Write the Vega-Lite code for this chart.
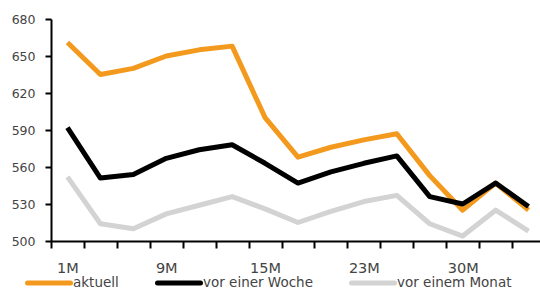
{
  "$schema": "https://vega.github.io/schema/vega-lite/v6.json",
  "width": 489,
  "height": 222,
  "autosize": {"type": "none"},
  "padding": {"left": 51, "top": 19, "right": 0, "bottom": 56},
  "background": "white",
  "config": {"view": {"stroke": null}, "font": "DejaVu Sans"},
  "data": {
    "values": [
      {"d": "1M", "s": "aktuell", "v": 661}, {"d": "4M", "s": "aktuell", "v": 635}, {"d": "6M", "s": "aktuell", "v": 640},
      {"d": "9M", "s": "aktuell", "v": 650}, {"d": "11M", "s": "aktuell", "v": 655}, {"d": "13M", "s": "aktuell", "v": 658},
      {"d": "15M", "s": "aktuell", "v": 600}, {"d": "18M", "s": "aktuell", "v": 568}, {"d": "20M", "s": "aktuell", "v": 576},
      {"d": "23M", "s": "aktuell", "v": 582}, {"d": "25M", "s": "aktuell", "v": 587}, {"d": "27M", "s": "aktuell", "v": 553},
      {"d": "30M", "s": "aktuell", "v": 525}, {"d": "1A", "s": "aktuell", "v": 547}, {"d": "3A", "s": "aktuell", "v": 525},
      {"d": "1M", "s": "vor einer Woche", "v": 592}, {"d": "4M", "s": "vor einer Woche", "v": 551}, {"d": "6M", "s": "vor einer Woche", "v": 554},
      {"d": "9M", "s": "vor einer Woche", "v": 567}, {"d": "11M", "s": "vor einer Woche", "v": 574}, {"d": "13M", "s": "vor einer Woche", "v": 578},
      {"d": "15M", "s": "vor einer Woche", "v": 563}, {"d": "18M", "s": "vor einer Woche", "v": 547}, {"d": "20M", "s": "vor einer Woche", "v": 556},
      {"d": "23M", "s": "vor einer Woche", "v": 563}, {"d": "25M", "s": "vor einer Woche", "v": 569}, {"d": "27M", "s": "vor einer Woche", "v": 536},
      {"d": "30M", "s": "vor einer Woche", "v": 530}, {"d": "1A", "s": "vor einer Woche", "v": 547}, {"d": "3A", "s": "vor einer Woche", "v": 528},
      {"d": "1M", "s": "vor einem Monat", "v": 552}, {"d": "4M", "s": "vor einem Monat", "v": 514}, {"d": "6M", "s": "vor einem Monat", "v": 510},
      {"d": "9M", "s": "vor einem Monat", "v": 522}, {"d": "11M", "s": "vor einem Monat", "v": 529}, {"d": "13M", "s": "vor einem Monat", "v": 536},
      {"d": "15M", "s": "vor einem Monat", "v": 526}, {"d": "18M", "s": "vor einem Monat", "v": 515}, {"d": "20M", "s": "vor einem Monat", "v": 524},
      {"d": "23M", "s": "vor einem Monat", "v": 532}, {"d": "25M", "s": "vor einem Monat", "v": 537}, {"d": "27M", "s": "vor einem Monat", "v": 514},
      {"d": "30M", "s": "vor einem Monat", "v": 504}, {"d": "1A", "s": "vor einem Monat", "v": 525}, {"d": "3A", "s": "vor einem Monat", "v": 508}
    ]
  },
  "encoding": {
    "x": {
      "field": "d",
      "type": "ordinal",
      "scale": {
        "type": "band",
        "paddingInner": 0,
        "paddingOuter": 0,
        "range": [0, 494],
        "domain": ["1M", "4M", "6M", "9M", "11M", "13M", "15M", "18M", "20M", "23M", "25M", "27M", "30M", "1A", "3A"]
      },
      "axis": {
        "title": null,
        "grid": false,
        "tickBand": "extent",
        "labelExpr": "indexof(['1M','9M','15M','23M','30M'], datum.value) >= 0 ? datum.value : ''",
        "labelOverlap": false,
        "labelAngle": 0,
        "domainColor": "#000000",
        "domainWidth": 2,
        "tickColor": "#000000",
        "tickWidth": 2,
        "tickSize": 7,
        "labelFont": "DejaVu Sans",
        "labelFontSize": 14.5,
        "labelColor": "#444444",
        "labelPadding": 13
      }
    },
    "y": {
      "field": "v",
      "type": "quantitative",
      "scale": {"domain": [500, 680], "nice": false, "zero": false},
      "axis": {
        "title": null,
        "grid": false,
        "values": [500, 530, 560, 590, 620, 650, 680],
        "domainColor": "#000000",
        "domainWidth": 2,
        "tickColor": "#000000",
        "tickWidth": 2,
        "tickSize": 6,
        "labelFont": "DejaVu Sans",
        "labelFontSize": 12.5,
        "labelColor": "#444444",
        "labelPadding": 10
      }
    },
    "color": {
      "field": "s",
      "type": "nominal",
      "scale": {
        "domain": ["aktuell", "vor einer Woche", "vor einem Monat"],
        "range": ["#F39A1E", "#000000", "#D3D3D3"]
      },
      "legend": {
        "title": null,
        "orient": "none",
        "legendX": -26,
        "legendY": 240,
        "direction": "horizontal",
        "gridAlign": "none",
        "symbolType": "stroke",
        "symbolSize": 1849,
        "symbolStrokeWidth": 5,
        "labelFont": "DejaVu Sans",
        "labelFontSize": 13.5,
        "labelColor": "#444444",
        "labelOffset": 0,
        "columnPadding": 28,
        "padding": 0,
        "encode": {"symbols": {"update": {"strokeCap": {"value": "round"}}}}
      }
    }
  },
  "layer": [
    {"transform": [{"filter": "datum.s === 'vor einem Monat'"}], "mark": {"type": "line", "strokeWidth": 5, "strokeJoin": "round"}},
    {"transform": [{"filter": "datum.s === 'aktuell'"}], "mark": {"type": "line", "strokeWidth": 5, "strokeJoin": "round"}},
    {"transform": [{"filter": "datum.s === 'vor einer Woche'"}], "mark": {"type": "line", "strokeWidth": 5, "strokeJoin": "round"}}
  ]
}
